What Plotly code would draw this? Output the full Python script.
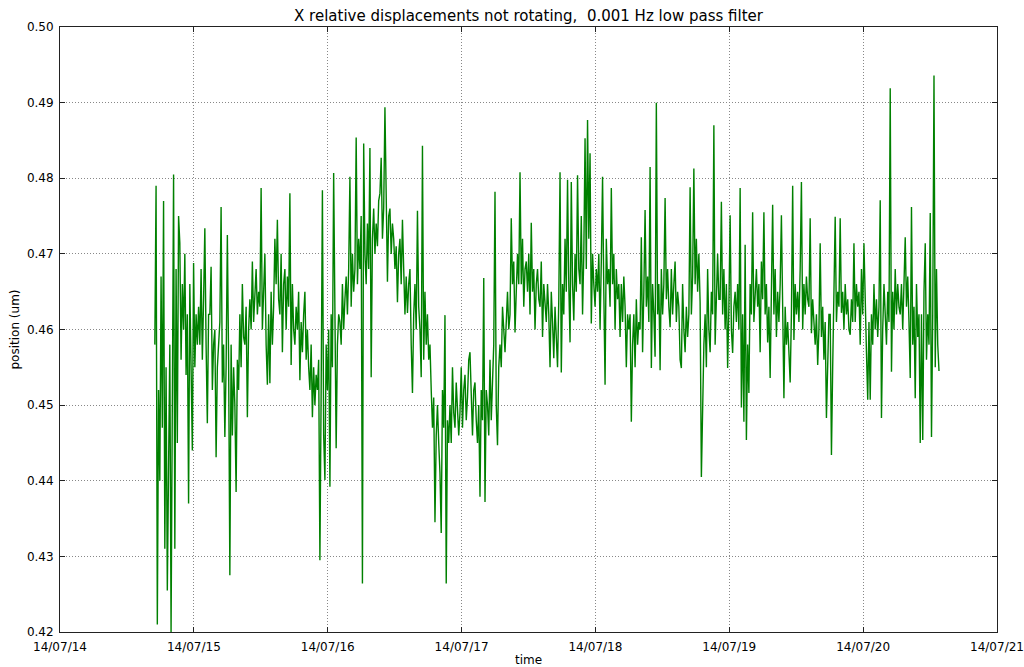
import pandas as pd
import plotly.graph_objects as go

start_time = "2014-07-14 17:00"
end_time = "2014-07-20 13:36"

position_um = [
    0.458, 0.479, 0.421, 0.452, 0.440, 0.467, 0.447, 0.477, 0.431, 0.455, 0.4255, 0.445,
    0.458, 0.420, 0.462, 0.4805, 0.431, 0.468, 0.445, 0.475,
    0.4714, 0.456, 0.466, 0.460, 0.470, 0.454, 0.462, 0.437,
    0.466, 0.452, 0.444, 0.4688, 0.455, 0.462, 0.458, 0.463,
    0.458, 0.468, 0.456, 0.464, 0.4734, 0.458, 0.4476, 0.462,
    0.462, 0.4683, 0.452, 0.458, 0.460, 0.4431, 0.455, 0.458,
    0.461, 0.4762, 0.453, 0.458, 0.4458, 0.455, 0.4725, 0.456,
    0.4275, 0.458, 0.446, 0.455, 0.450, 0.4385, 0.456, 0.452,
    0.462, 0.455, 0.466, 0.459, 0.458, 0.463, 0.4484, 0.460,
    0.464, 0.460, 0.469, 0.461, 0.466, 0.468, 0.462, 0.465,
    0.463, 0.4787, 0.460, 0.466, 0.470, 0.458, 0.4527, 0.462,
    0.4529, 0.465, 0.458, 0.463, 0.472, 0.466, 0.4745, 0.464,
    0.462, 0.470, 0.457, 0.466, 0.468, 0.460, 0.467, 0.463,
    0.478, 0.4553, 0.466, 0.460, 0.458, 0.463, 0.460, 0.465,
    0.4533, 0.461, 0.457, 0.462, 0.465, 0.456, 0.460, 0.455,
    0.452, 0.458, 0.4484, 0.455, 0.450, 0.454, 0.452, 0.456,
    0.4295, 0.452, 0.4784, 0.446, 0.4401, 0.458, 0.452, 0.460,
    0.4392, 0.462, 0.455, 0.4807, 0.455, 0.4443, 0.458, 0.462,
    0.461, 0.458, 0.466, 0.460, 0.464, 0.467, 0.462, 0.468,
    0.4802, 0.463, 0.470, 0.465, 0.468, 0.4854, 0.466, 0.472,
    0.468, 0.475, 0.4264, 0.4846, 0.470, 0.466, 0.474, 0.468,
    0.484, 0.4537, 0.472, 0.476, 0.470, 0.474, 0.471, 0.477,
    0.478, 0.4827, 0.472, 0.476, 0.4894, 0.474, 0.4663, 0.475,
    0.476, 0.470, 0.474, 0.472, 0.468, 0.471, 0.4636, 0.470,
    0.472, 0.466, 0.4745, 0.468, 0.462, 0.467, 0.4622, 0.466,
    0.468, 0.458, 0.4516, 0.462, 0.466, 0.460, 0.4757, 0.463,
    0.460, 0.4537, 0.4843, 0.456, 0.465, 0.458, 0.462, 0.456,
    0.458, 0.452, 0.447, 0.451, 0.4345, 0.446, 0.450, 0.445,
    0.441, 0.4331, 0.452, 0.447, 0.4619, 0.4264, 0.448, 0.445,
    0.450, 0.445, 0.455, 0.449, 0.447, 0.453, 0.450, 0.446,
    0.449, 0.455, 0.447, 0.452, 0.454, 0.448, 0.451, 0.456,
    0.457, 0.451, 0.446, 0.452, 0.453, 0.448, 0.445, 0.450,
    0.4379, 0.452, 0.448, 0.4668, 0.4372, 0.452, 0.450, 0.446,
    0.456, 0.448, 0.453, 0.458, 0.4782, 0.450, 0.4447, 0.455,
    0.458, 0.455, 0.463, 0.459, 0.457, 0.461, 0.465, 0.460,
    0.462, 0.4747, 0.466, 0.469, 0.4596, 0.465, 0.470, 0.466,
    0.4808, 0.466, 0.472, 0.463, 0.468, 0.469, 0.465, 0.470,
    0.462, 0.4741, 0.465, 0.468, 0.460, 0.466, 0.468, 0.464,
    0.463, 0.469, 0.459, 0.466, 0.463, 0.461, 0.466, 0.462,
    0.455, 0.465, 0.461, 0.4562, 0.463, 0.459, 0.455, 0.464,
    0.4808, 0.4543, 0.466, 0.462, 0.472, 0.465, 0.4798, 0.466,
    0.4583, 0.4795, 0.466, 0.4612, 0.470, 0.465, 0.4804, 0.468,
    0.466, 0.475, 0.462, 0.470, 0.4853, 0.468, 0.4877, 0.472,
    0.4833, 0.4608, 0.470, 0.466, 0.463, 0.468, 0.465, 0.470,
    0.460, 0.469, 0.4802, 0.465, 0.4527, 0.472, 0.466, 0.468,
    0.463, 0.4787, 0.466, 0.470, 0.460, 0.468, 0.464, 0.466,
    0.459, 0.466, 0.461, 0.467, 0.463, 0.455, 0.462, 0.460,
    0.462, 0.4478, 0.458, 0.462, 0.455, 0.464, 0.458, 0.461,
    0.460, 0.4722, 0.457, 0.465, 0.4758, 0.463, 0.467, 0.461,
    0.4815, 0.4549, 0.466, 0.462, 0.4564, 0.4900, 0.462, 0.466,
    0.4546, 0.468, 0.462, 0.466, 0.4774, 0.464, 0.468, 0.463,
    0.4603, 0.468, 0.462, 0.466, 0.469, 0.461, 0.465, 0.463,
    0.456, 0.4549, 0.466, 0.460, 0.457, 0.463, 0.459, 0.462,
    0.4788, 0.462, 0.467, 0.4813, 0.466, 0.472, 0.465, 0.470,
    0.4636, 0.4405, 0.451, 0.458, 0.462, 0.455, 0.468, 0.460,
    0.457, 0.465, 0.462, 0.487, 0.458, 0.465, 0.470, 0.464,
    0.464, 0.4769, 0.462, 0.468, 0.460, 0.466, 0.4549, 0.463,
    0.4751, 0.460, 0.4569, 0.463, 0.465, 0.461, 0.466, 0.460,
    0.4787, 0.4497, 0.462, 0.4478, 0.4712, 0.4454, 0.458, 0.4516,
    0.466, 0.462, 0.4755, 0.461, 0.465, 0.468, 0.463, 0.466,
    0.457, 0.469, 0.464, 0.4755, 0.462, 0.466, 0.4583, 0.463,
    0.4536, 0.463, 0.4765, 0.462, 0.468, 0.459, 0.465, 0.461,
    0.466, 0.4751, 0.462, 0.4509, 0.463, 0.458, 0.461, 0.457,
    0.453, 0.462, 0.479, 0.4586, 0.466, 0.462, 0.465, 0.461,
    0.468, 0.4795, 0.460, 0.466, 0.462, 0.467, 0.464, 0.463,
    0.4747, 0.4595, 0.464, 0.461, 0.458, 0.462, 0.4553, 0.460,
    0.4714, 0.459, 0.463, 0.456, 0.461, 0.4483, 0.458, 0.462,
    0.462, 0.4434, 0.455, 0.463, 0.4749, 0.461, 0.465, 0.463,
    0.4747, 0.4622, 0.465, 0.460, 0.466, 0.462, 0.464, 0.460,
    0.4593, 0.464, 0.461, 0.4714, 0.461, 0.466, 0.463, 0.465,
    0.458, 0.468, 0.462, 0.4714, 0.462, 0.457, 0.4507, 0.461,
    0.4507, 0.462, 0.458, 0.466, 0.460, 0.464, 0.459, 0.463,
    0.4771, 0.4483, 0.460, 0.466, 0.462, 0.458, 0.465, 0.461,
    0.4919, 0.4544, 0.465, 0.460, 0.468, 0.462, 0.466, 0.463,
    0.462, 0.466, 0.460, 0.465, 0.4722, 0.463, 0.467, 0.461,
    0.4536, 0.4762, 0.458, 0.463, 0.4509, 0.466, 0.459, 0.462,
    0.445, 0.462, 0.4454, 0.465, 0.4714, 0.456, 0.462, 0.458,
    0.4754, 0.4458, 0.462, 0.4936, 0.455, 0.468, 0.458, 0.4545,
]

times = pd.date_range(start_time, end_time, periods=len(position_um))

font = "DejaVu Sans"
fig = go.Figure()
fig.add_trace(go.Scatter(x=times, y=position_um, mode="lines",
                         line=dict(color="#008000", width=1.4), showlegend=False))

axis_common = dict(showline=True, linecolor="#222222", linewidth=1, mirror="ticks",
                   ticks="inside", ticklen=5, tickcolor="#222222", automargin=False,
                   showgrid=True, gridcolor="#888888", griddash="1px,2px", gridwidth=1,
                   zeroline=False, tickfont=dict(family=font, size=12, color="black"))

fig.update_layout(
    width=1024, height=667,
    margin=dict(l=60, r=27, t=27, b=35),
    paper_bgcolor="white", plot_bgcolor="white",
    title=dict(text="X relative displacements not rotating,  0.001 Hz low pass filter",
               x=0.5, xanchor="center", xref="paper", y=0.977, yanchor="middle",
               font=dict(family=font, size=15, color="black")),
    xaxis=dict(range=["2014-07-14", "2014-07-21"], dtick=86400000, tick0="2014-07-14",
               tickformat="%y/%m/%d", ticklabelstandoff=4,
               title=dict(text="time", standoff=2, font=dict(family=font, size=12, color="black")),
               **axis_common),
    yaxis=dict(range=[0.42, 0.50], dtick=0.01, tickformat=".2f", ticklabelstandoff=3,
               title=dict(text="position (um)", standoff=4, font=dict(family=font, size=12, color="black")),
               **axis_common),
)

fig.write_html("out.html")
